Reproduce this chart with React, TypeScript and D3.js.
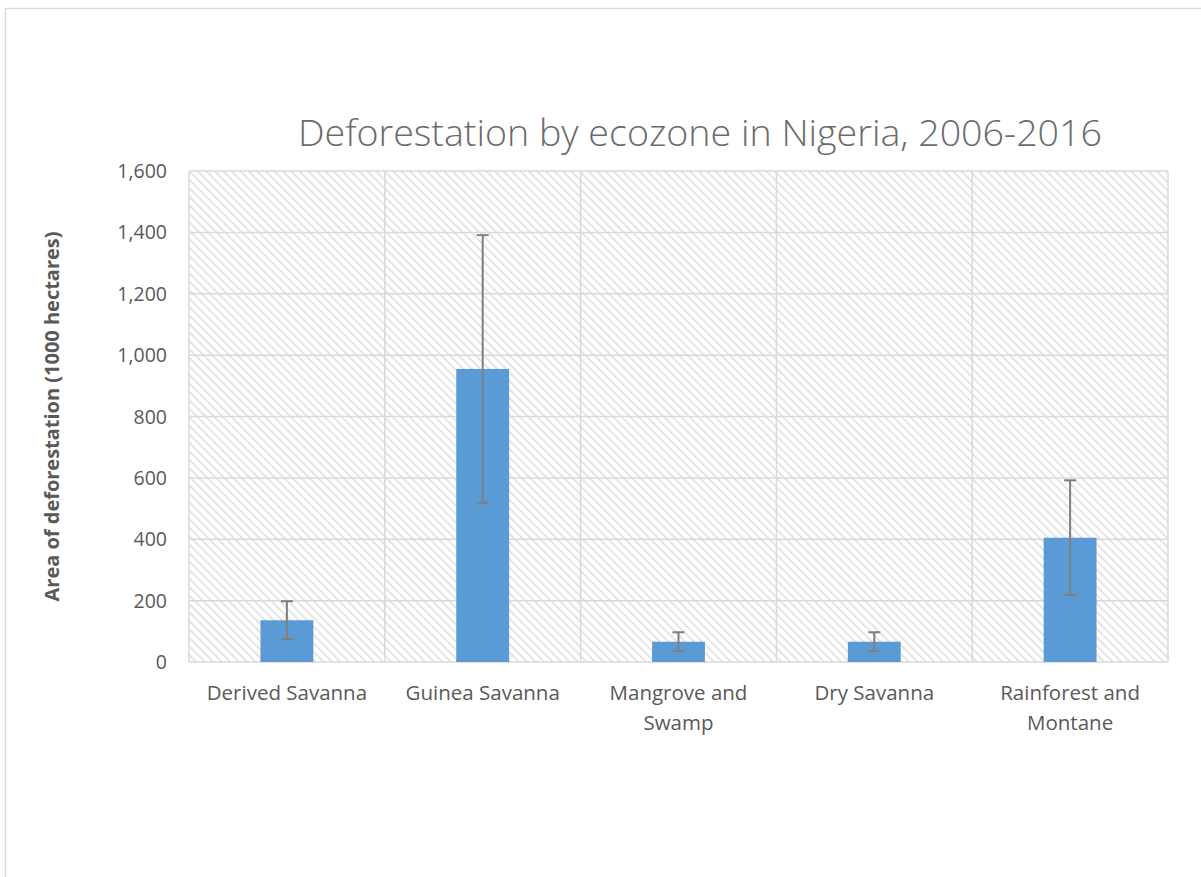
import React from 'react';
import * as d3 from 'd3';

// ecozones and deforested area (1000 ha), with error bar half-widths
const zones = ['Derived Savanna', 'Guinea Savanna', 'Mangrove and Swamp', 'Dry Savanna', 'Rainforest and Montane'];
const zoneLines = [['Derived Savanna'], ['Guinea Savanna'], ['Mangrove and', 'Swamp'], ['Dry Savanna'], ['Rainforest and', 'Montane']];
const areas = [136, 955, 66, 66, 405];
const errors = [62, 436, 31, 31, 187];
const yTicks = [0, 200, 400, 600, 800, 1000, 1200, 1400, 1600];

const width = 1201;
const height = 877;
const margin = { top: 171, right: 33, bottom: 215, left: 189 };

const App: React.FC = () => {
  const x = d3.scaleBand<string>()
    .domain(zones)
    .range([margin.left, width - margin.right])
    .padding(0);

  const y = d3.scaleLinear()
    .domain([0, 1600])
    .range([height - margin.bottom, margin.top]);

  const barW = x.bandwidth() * 0.27;
  const fmt = d3.format(',');
  const font = '"Open Sans", sans-serif';
  const grid = '#d9d9d9';

  return (
    <svg width={width} height={height} style={{ position: 'absolute', left: 0, top: 0 }}>
      <defs>
        {/* Excel-style wide downward diagonal fill */}
        <pattern id="hatch" width="6" height="6" patternUnits="userSpaceOnUse" patternTransform="rotate(-45)">
          <rect width="6" height="6" fill="#ffffff" />
          <line x1="0" y1="0" x2="0" y2="6" stroke="#dcdcdc" strokeWidth="3" />
        </pattern>
      </defs>

      <rect width={width} height={height} fill="#ffffff" />
      <rect x={5.5} y={8.5} width={width} height={height} fill="none" stroke="#d9d9d9" strokeWidth={1.5} />

      <text
        x={700}
        y={146}
        textAnchor="middle"
        fontFamily={font}
        fontSize={36}
        fontWeight={300}
        fill="#6b6b6b"
        textLength={804}
        lengthAdjust="spacingAndGlyphs"
      >
        Deforestation by ecozone in Nigeria, 2006-2016
      </text>

      {/* plot area */}
      <rect
        x={margin.left}
        y={margin.top}
        width={width - margin.left - margin.right}
        height={height - margin.top - margin.bottom}
        fill="url(#hatch)"
      />

      {yTicks.map((t) => (
        <line
          key={`g-${t}`}
          x1={margin.left}
          x2={width - margin.right}
          y1={y(t)}
          y2={y(t)}
          stroke={grid}
          strokeWidth={1.5}
        />
      ))}
      {zones.map((z) => (
        <line
          key={`v-${z}`}
          x1={x(z)!}
          x2={x(z)!}
          y1={margin.top}
          y2={height - margin.bottom}
          stroke={grid}
          strokeWidth={1.5}
        />
      ))}
      <line
        x1={width - margin.right}
        x2={width - margin.right}
        y1={margin.top}
        y2={height - margin.bottom}
        stroke={grid}
        strokeWidth={1.5}
      />

      {/* bars */}
      {zones.map((z, i) => (
        <rect
          key={`b-${z}`}
          x={x(z)! + x.bandwidth() / 2 - barW / 2}
          y={y(areas[i])}
          width={barW}
          height={y(0) - y(areas[i])}
          fill="#5b9bd5"
        />
      ))}

      {/* error bars */}
      {zones.map((z, i) => {
        const cx = x(z)! + x.bandwidth() / 2;
        const hi = y(areas[i] + errors[i]);
        const lo = y(areas[i] - errors[i]);
        return (
          <g key={`e-${z}`} stroke="#7f7f7f" strokeWidth={2}>
            <line x1={cx} x2={cx} y1={hi} y2={lo} />
            <line x1={cx - 6} x2={cx + 6} y1={hi} y2={hi} />
            <line x1={cx - 6} x2={cx + 6} y1={lo} y2={lo} />
          </g>
        );
      })}

      {/* y tick labels */}
      {yTicks.map((t) => (
        <text
          key={`yl-${t}`}
          x={margin.left - 22}
          y={y(t) + 7}
          textAnchor="end"
          fontFamily={font}
          fontSize={19.5}
          fill="#595959"
        >
          {fmt(t)}
        </text>
      ))}

      {/* x labels */}
      {zones.map((z, i) => (
        <text
          key={`xl-${z}`}
          x={x(z)! + x.bandwidth() / 2}
          y={700}
          textAnchor="middle"
          fontFamily={font}
          fontSize={20.5}
          fill="#595959"
        >
          {zoneLines[i].map((ln, j) => (
            <tspan key={j} x={x(z)! + x.bandwidth() / 2} dy={j === 0 ? 0 : 30}>
              {ln}
            </tspan>
          ))}
        </text>
      ))}

      <text
        transform={`translate(59, ${(y(0) + y(1600)) / 2}) rotate(-90)`}
        textAnchor="middle"
        fontFamily={font}
        fontSize={19}
        fontWeight="bold"
        fill="#595959"
        textLength={370}
        lengthAdjust="spacingAndGlyphs"
      >
        Area of deforestation (1000 hectares)
      </text>
    </svg>
  );
};

export default App;
